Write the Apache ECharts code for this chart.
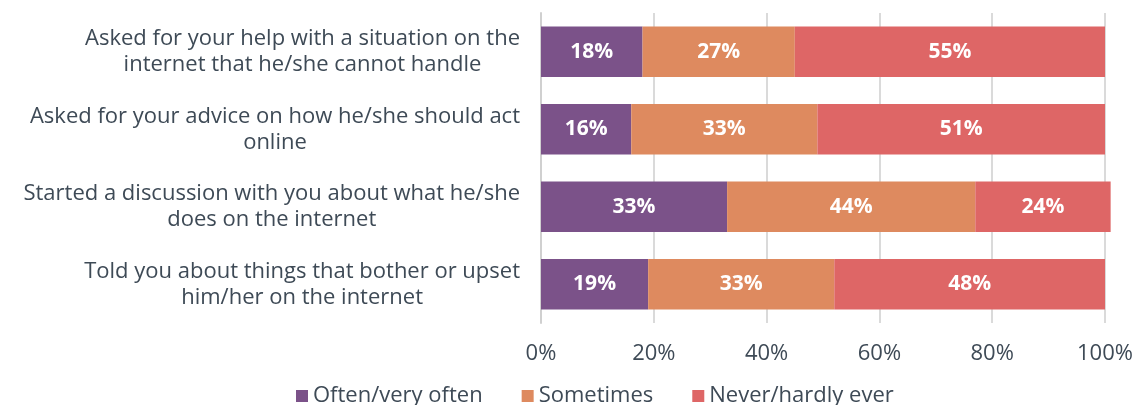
<!DOCTYPE html>
<html><head><meta charset="utf-8">
<script src="https://cdn.jsdelivr.net/npm/echarts@6/dist/echarts.min.js"></script>
<style>html,body{margin:0;padding:0;background:#fff}#c{width:1136px;height:405px}</style>
</head><body><div id="c"></div>
<script>
const categories = [
  "Asked for your help with a situation on the\ninternet that he/she cannot handle",
  "Asked for your advice on how he/she should act\nonline",
  "Started a discussion with you about what he/she\ndoes on the internet",
  "Told you about things that bother or upset\nhim/her on the internet"
];
const seriesNames = ["Often/very often", "Sometimes", "Never/hardly ever"];
const often = [18, 16, 33, 19];
const sometimes = [27, 33, 44, 33];
const never = [55, 51, 24, 48];
const colors = ["#7B5289", "#DE8A5F", "#DE6666"];
const textColor = "#3E4A56";
const font = "Open Sans";

const chart = echarts.init(document.getElementById('c'), null, {renderer: 'canvas'});
const mk = (name, data, i) => ({
  name, type: 'bar', stack: 'a', data, barCategoryGap: '35%', clip: false,
  itemStyle: {color: colors[i]},
  label: {show: true, position: 'inside', formatter: '{c}%', color: '#fff',
    fontWeight: 'bold', fontSize: 21, fontFamily: font}
});
chart.setOption({
  animation: false,
  textStyle: {fontFamily: font},
  grid: {left: 541, right: 31, top: 13, height: 310, containLabel: false},
  legend: {
    data: seriesNames, bottom: -7, left: 291, itemWidth: 12, itemHeight: 12, itemGap: 39,
    icon: 'rect', textStyle: {color: textColor, fontSize: 22, fontFamily: font}
  },
  xAxis: {
    type: 'value', min: 0, max: 100, interval: 20,
    axisLine: {show: false}, axisTick: {show: false},
    splitLine: {lineStyle: {color: '#DADADA', width: 2}},
    axisLabel: {formatter: '{value}%', color: textColor, fontSize: 22, margin: 20, fontFamily: font}
  },
  yAxis: {
    type: 'category', data: categories, inverse: true,
    axisLine: {show: true, lineStyle: {color: '#D0D0D0', width: 2}},
    axisTick: {show: false},
    axisLabel: {
      color: textColor, fontSize: 22, margin: 21, lineHeight: 26, fontFamily: font,
      formatter: v => v.split('\n').map(s => '{c|' + s + '}').join('\n'),
      rich: {c: {align: 'center', color: textColor, fontSize: 22, lineHeight: 26, fontFamily: font}}
    }
  },
  series: [mk(seriesNames[0], often, 0), mk(seriesNames[1], sometimes, 1), mk(seriesNames[2], never, 2)]
});
</script></body></html>
